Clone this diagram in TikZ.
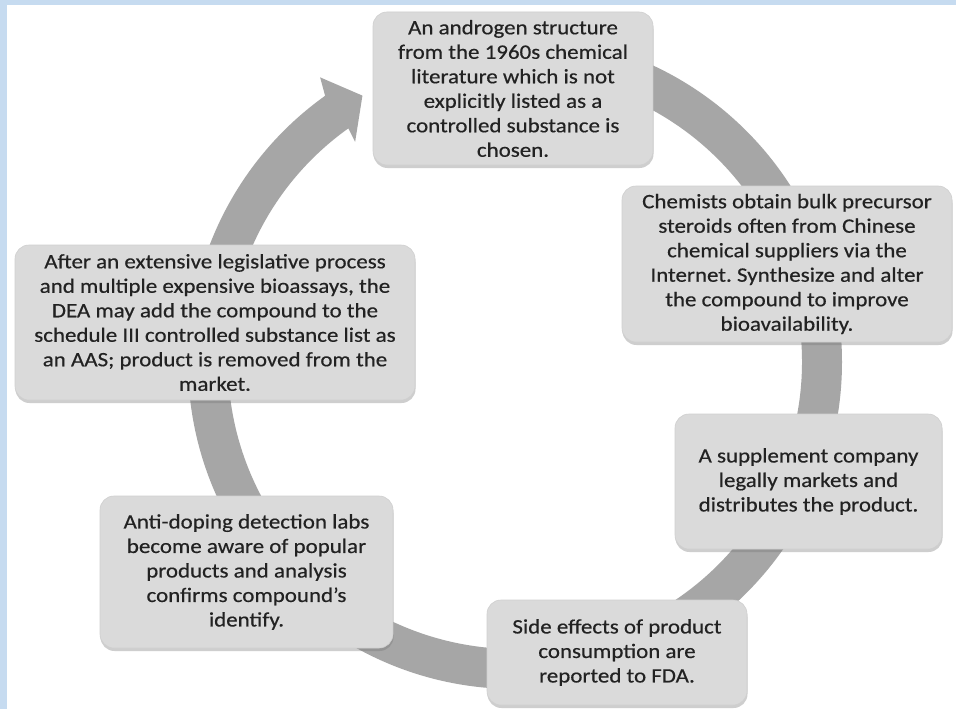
\documentclass[tikz,border=0pt]{standalone}
\usepackage{fontspec}
\setmainfont{Carlito}[FakeStretch=1.12, FakeBold=0.5]
\usetikzlibrary{calc,shadows}
\definecolor{frameblue}{HTML}{C6DBF0}
\definecolor{ringgray}{HTML}{A6A6A6}
\definecolor{boxfill}{HTML}{DADADA}
\definecolor{boxline}{HTML}{CFCFCF}
\definecolor{txt}{HTML}{222222}
\frenchspacing
\begin{document}
\begin{tikzpicture}[x=1pt,y=1pt,
  stepbox/.style={rounded corners=14pt, fill=boxfill, draw=boxline, line width=0.6pt,
    drop shadow={shadow xshift=0.5pt, shadow yshift=-3pt, opacity=0.35, fill=black!55},
    inner sep=0pt, align=center, text=txt,
    font=\fontsize{20.5}{24.5}\selectfont},
  ring/.style={fill=ringgray}]
\useasboundingbox (0,0) rectangle (956,-709);
\fill[white] (0,0) rectangle (956,-709);
\fill[frameblue] (0,0) rectangle (956,-5);
\fill[frameblue] (0,0) rectangle (7,-709);
% circular arrow
\coordinate (c) at (515,-362);
\fill[ring] ($(c)+(90:327)$) arc[start angle=90, end angle=-234.5, radius=327]
  -- ($(c)+(-235.6:345)$) -- ($(c)+(-240.2:307)$) -- ($(c)+(-234:272)$)
  -- ($(c)+(-234.5:287)$) arc[start angle=-234.5, end angle=90, radius=287] -- cycle;
% boxes
\node[stepbox, minimum width=280pt, minimum height=153pt] (b1) at (513,-88.5)
  {An androgen structure\\from the 1960s chemical\\literature which is not\\explicitly listed as a\\controlled substance is\\chosen.};
\node[stepbox, minimum width=330pt, minimum height=156pt] (b2) at (787,-264)
  {Chemists obtain bulk precursor\\steroids often from Chinese\\chemical suppliers via the\\Internet. Synthesize and alter\\the compound to improve\\bioavailability.};
\node[stepbox, minimum width=267pt, minimum height=135pt] (b3) at (808.5,-481.5)
  {A supplement company\\legally markets and\\distributes the product.};
\node[stepbox, minimum width=260pt, minimum height=105pt] (b4) at (617,-652.5)
  {Side effects of product\\consumption are\\reported to FDA.};
\node[stepbox, minimum width=293pt, minimum height=152pt] (b5) at (246.5,-572)
  {Anti-doping detection labs\\become aware of popular\\products and analysis\\confirms compound’s\\identify.};
\node[stepbox, minimum width=400pt, minimum height=155pt] (b6) at (215,-322.5)
  {After an extensive legislative process\\and multiple expensive bioassays, the\\DEA may add the compound to the\\schedule III controlled substance list as\\an AAS; product is removed from the\\market.};
\end{tikzpicture}
\end{document}
